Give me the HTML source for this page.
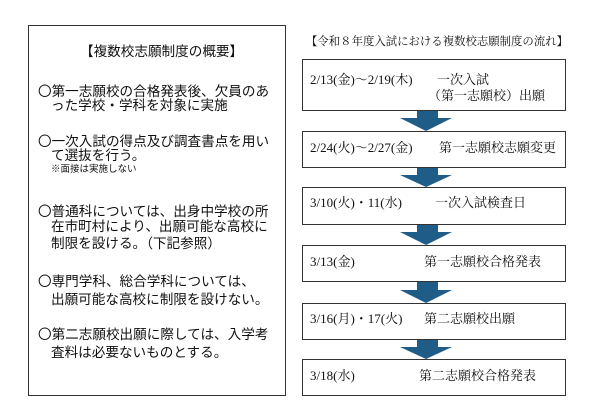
<!DOCTYPE html>
<html><head><meta charset="utf-8"><style>
body{margin:0;width:600px;height:417px;background:#fff;position:relative;overflow:hidden}
.t{position:absolute;white-space:nowrap;line-height:1;color:#111}
.l{font-family:"Liberation Sans","Noto Sans CJK JP",sans-serif;font-size:13.6px}
.r{font-family:"Liberation Serif","Noto Serif CJK SC",serif;font-size:13px}
.box{position:absolute;border:1.3px solid #333;box-sizing:border-box}
</style></head><body>
<div class="box" style="left:28px;top:25px;width:258px;height:371px"></div>
<div class="t l" style="left:80px;top:45px">【複数校志願制度の概要】</div>
<div class="t l" style="left:38px;top:85px">〇第一志願校の合格発表後、欠員のあ</div>
<div class="t l" style="left:51px;top:99px">った学校・学科を対象に実施</div>
<div class="t l" style="left:38px;top:135px">〇一次入試の得点及び調査書点を用い</div>
<div class="t l" style="left:51px;top:149px">て選抜を行う。</div>
<div class="t l" style="left:51px;top:165px;font-size:9.5px">※面接は実施しない</div>
<div class="t l" style="left:38px;top:205px">〇普通科については、出身中学校の所</div>
<div class="t l" style="left:51px;top:220px">在市町村により、出願可能な高校に</div>
<div class="t l" style="left:51px;top:237px">制限を設ける。（下記参照）</div>
<div class="t l" style="left:38px;top:275px">〇専門学科、総合学科については、</div>
<div class="t l" style="left:51px;top:293px">出願可能な高校に制限を設けない。</div>
<div class="t l" style="left:38px;top:328px">〇第二志願校出願に際しては、入学考</div>
<div class="t l" style="left:51px;top:346px">査料は必要ないものとする。</div>

<div class="t r" style="left:306px;top:37px;font-size:11.4px">【令和８年度入試における複数校志願制度の流れ】</div>
<svg style="position:absolute;left:0;top:0" width="600" height="417">
<g fill="#1f5d88">
<polygon points="417,110 438,110 438,118 452,118 426,131 400,118 417,118"/>
<polygon points="417,167 438,167 438,175 452,175 426,187 400,175 417,175"/>
<polygon points="417,224 438,224 438,232 452,232 426,245 400,232 417,232"/>
<polygon points="417,281 438,281 438,290 452,290 426,303 400,290 417,290"/>
<polygon points="417,339 438,339 438,347 452,347 426,359 400,347 417,347"/>
</g></svg>
<div class="box" style="left:302px;top:59px;width:264px;height:52px"></div>
<div class="box" style="left:302px;top:131px;width:264px;height:37px"></div>
<div class="box" style="left:302px;top:187px;width:264px;height:38px"></div>
<div class="box" style="left:302px;top:245px;width:264px;height:37px"></div>
<div class="box" style="left:302px;top:303px;width:264px;height:37px"></div>
<div class="box" style="left:302px;top:359px;width:264px;height:37px"></div>
<div class="t r" style="left:310px;top:73px">2/13(金)～2/19(木)</div>
<div class="t r" style="left:437px;top:73px">一次入試</div>
<div class="t r" style="left:428px;top:89px">（第一志願校）出願</div>
<div class="t r" style="left:310px;top:141px">2/24(火)～2/27(金)</div>
<div class="t r" style="left:439px;top:141px">第一志願校志願変更</div>
<div class="t r" style="left:310px;top:196px">3/10(火)・11(水)</div>
<div class="t r" style="left:435px;top:196px">一次入試検査日</div>
<div class="t r" style="left:310px;top:255px">3/13(金)</div>
<div class="t r" style="left:424px;top:255px">第一志願校合格発表</div>
<div class="t r" style="left:310px;top:312px">3/16(月)・17(火)</div>
<div class="t r" style="left:424px;top:312px">第二志願校出願</div>
<div class="t r" style="left:310px;top:369px">3/18(水)</div>
<div class="t r" style="left:419px;top:369px">第二志願校合格発表</div>
</body></html>
